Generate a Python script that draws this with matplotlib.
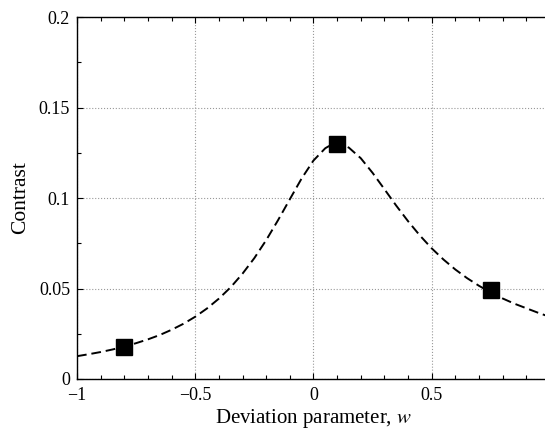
import matplotlib
matplotlib.use('Agg')
import matplotlib.pyplot as plt
from matplotlib.ticker import MultipleLocator

plt.rcParams['font.family'] = ['Liberation Serif', 'DejaVu Serif']
plt.rcParams['mathtext.fontset'] = 'stix'

# theoretical curve
w_curve = [-1.0, -0.95, -0.9, -0.85, -0.8, -0.75, -0.7, -0.65, -0.6, -0.55,
           -0.5, -0.45, -0.4, -0.35, -0.3, -0.25, -0.2, -0.15, -0.1, -0.05,
           0.0, 0.05, 0.075, 0.1, 0.125, 0.15, 0.2, 0.25, 0.3, 0.35, 0.4,
           0.45, 0.5, 0.55, 0.6, 0.65, 0.7, 0.75, 0.8, 0.85, 0.9, 0.95, 1.0]
c_curve = [0.0126, 0.0137, 0.0149, 0.0163, 0.0179, 0.0198, 0.0219, 0.0243,
           0.0272, 0.0305, 0.0344, 0.0390, 0.0444, 0.0507, 0.0582, 0.0668,
           0.0767, 0.0877, 0.0993, 0.1108, 0.1207, 0.1275, 0.1294, 0.1300,
           0.1294, 0.1278, 0.1220, 0.1139, 0.1049, 0.0958, 0.0872, 0.0793,
           0.0722, 0.0660, 0.0605, 0.0557, 0.0515, 0.0478, 0.0445, 0.0416,
           0.0391, 0.0366, 0.0343]

# measured points
w_meas = [-0.8, 0.1, 0.75]
c_meas = [0.0175, 0.13, 0.049]

fig = plt.figure(figsize=(5.45, 4.32), dpi=100)
ax = fig.add_axes([0.1413, 0.1227, 1.009 - 0.1413, 0.9606 - 0.1227])

ax.plot(w_curve, c_curve, color='black', lw=1.4, linestyle=(0, (5, 2.5)))
ax.plot(w_meas, c_meas, 's', color='black', markersize=12)

ax.set_xlim(-1, 1)
ax.set_ylim(0, 0.2)
ax.set_xticks([-1, -0.5, 0, 0.5])
ax.set_xticklabels(['\u22121', '\u22120.5', '0', '0.5'])
ax.set_yticks([0, 0.05, 0.1, 0.15, 0.2])
ax.set_yticklabels(['0', '0.05', '0.1', '0.15', '0.2'])
ax.xaxis.set_minor_locator(MultipleLocator(0.1))
ax.yaxis.set_minor_locator(MultipleLocator(0.025))
ax.tick_params(which='both', direction='in', top=True, right=False,
               labelsize=13, width=0.8)
ax.tick_params(which='major', length=4)
ax.tick_params(which='minor', length=3)
ax.tick_params(axis='x', pad=6)
ax.tick_params(axis='y', pad=5)

ax.grid(True, which='major', color='#999999', linestyle=':', linewidth=0.8)
ax.spines['right'].set_visible(False)
for s in ['left', 'bottom', 'top']:
    ax.spines[s].set_linewidth(1.0)

ax.set_xlabel('Deviation parameter, $w$', fontsize=15, labelpad=2)
ax.set_ylabel('Contrast', fontsize=15.5, labelpad=6)

fig.savefig('out.png', dpi=100)
